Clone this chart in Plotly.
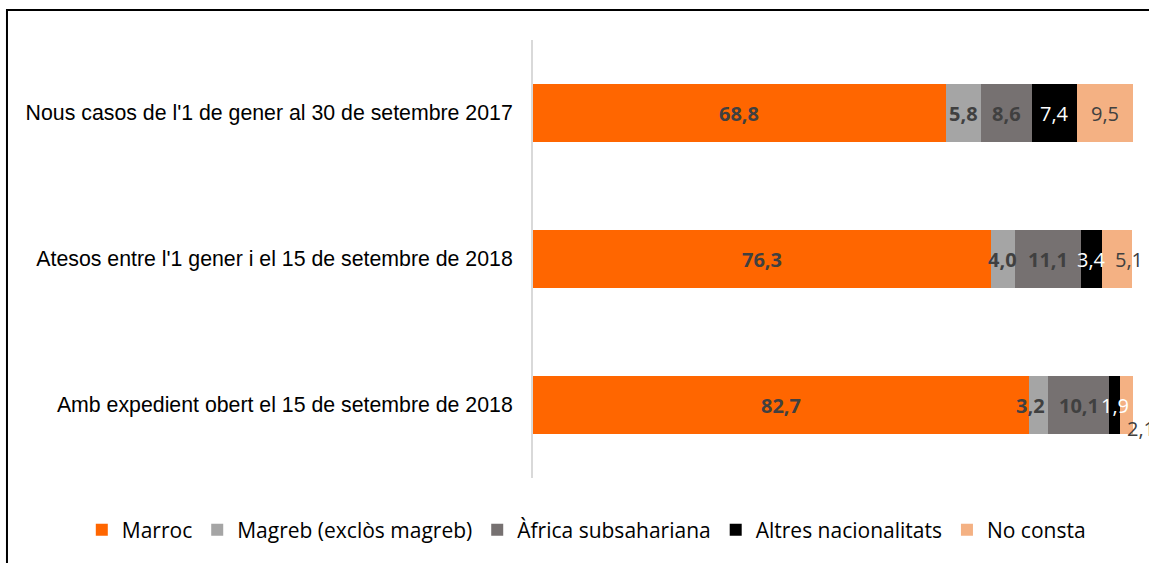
import plotly.graph_objects as go

categories = [
    "Nous casos de l'1 de gener al 30 de setembre 2017",
    "Atesos entre l'1 gener i el 15 de setembre de 2018",
    "Amb expedient obert el 15 de setembre de 2018",
]
series_names = ["Marroc", "Magreb (exclòs magreb)", "Àfrica subsahariana",
                "Altres nacionalitats", "No consta"]
marroc = [68.8, 76.3, 82.7]
magreb = [5.8, 4.0, 3.2]
africa = [8.6, 11.1, 10.1]
altres = [7.4, 3.4, 1.9]
no_consta = [9.5, 5.1, 2.1]

series = [marroc, magreb, africa, altres, no_consta]
colors = ["#FF6600", "#A5A5A5", "#767171", "#000000", "#F4B183"]
label_colors = ["#404040", "#404040", "#404040", "#FFFFFF", "#404040"]
label_bold = [True, True, True, False, False]

fig = go.Figure()
for name, vals, col in zip(series_names, series, colors):
    fig.add_trace(go.Bar(
        y=categories, x=vals, name=name, orientation="h",
        marker=dict(color=col, line_width=0),
        width=0.4, hoverinfo="x+name",
    ))

# label nudges (row, series) -> (xshift, yshift), like Excel's placement
nudges = {(2, 4): (14, -23), (2, 1): (-8, 0), (1, 4): (12, 0)}

# data labels centred in each segment
annotations = []
for i, cat in enumerate(categories):
    left = 0
    for s, vals in enumerate(series):
        v = vals[i]
        txt = f"{v:.1f}".replace(".", ",")
        if label_bold[s]:
            txt = f"<b>{txt}</b>"
        xs, ys = nudges.get((i, s), (0, 0))
        annotations.append(dict(
            x=left + v / 2, y=cat, xref="x", yref="y", text=txt,
            showarrow=False, xshift=xs, yshift=ys,
            font=dict(family="Open Sans", size=20, color=label_colors[s]),
        ))
        left += v

fig.update_layout(
    barmode="stack",
    width=1149, height=563,
    margin=dict(l=533, r=16, t=40, b=85),
    paper_bgcolor="white", plot_bgcolor="white",
    xaxis=dict(range=[0, 100], visible=False, fixedrange=True),
    yaxis=dict(
        autorange="reversed", showline=True, linecolor="#D9D9D9", linewidth=2,
        showgrid=False, ticks="", ticklabelstandoff=14,
        tickfont=dict(family="Liberation Sans", size=21.3, color="#000000"),
    ),
    legend=dict(
        orientation="h", x=-0.752, xanchor="left", y=-0.119, yanchor="middle",
        font=dict(family="Open Sans", size=21, color="#000000"),
        traceorder="normal", itemwidth=30,
    ),
    annotations=annotations,
    showlegend=True,
    shapes=[dict(
        type="rect", xref="paper", yref="paper",
        x0=-0.8767, x1=1.2, y0=-0.4, y1=1.0685,
        line=dict(color="#000000", width=2), layer="above",
    )],
)

fig.write_html("out.html", config={"displayModeBar": False},
               post_script="document.body.style.margin='0px';")
